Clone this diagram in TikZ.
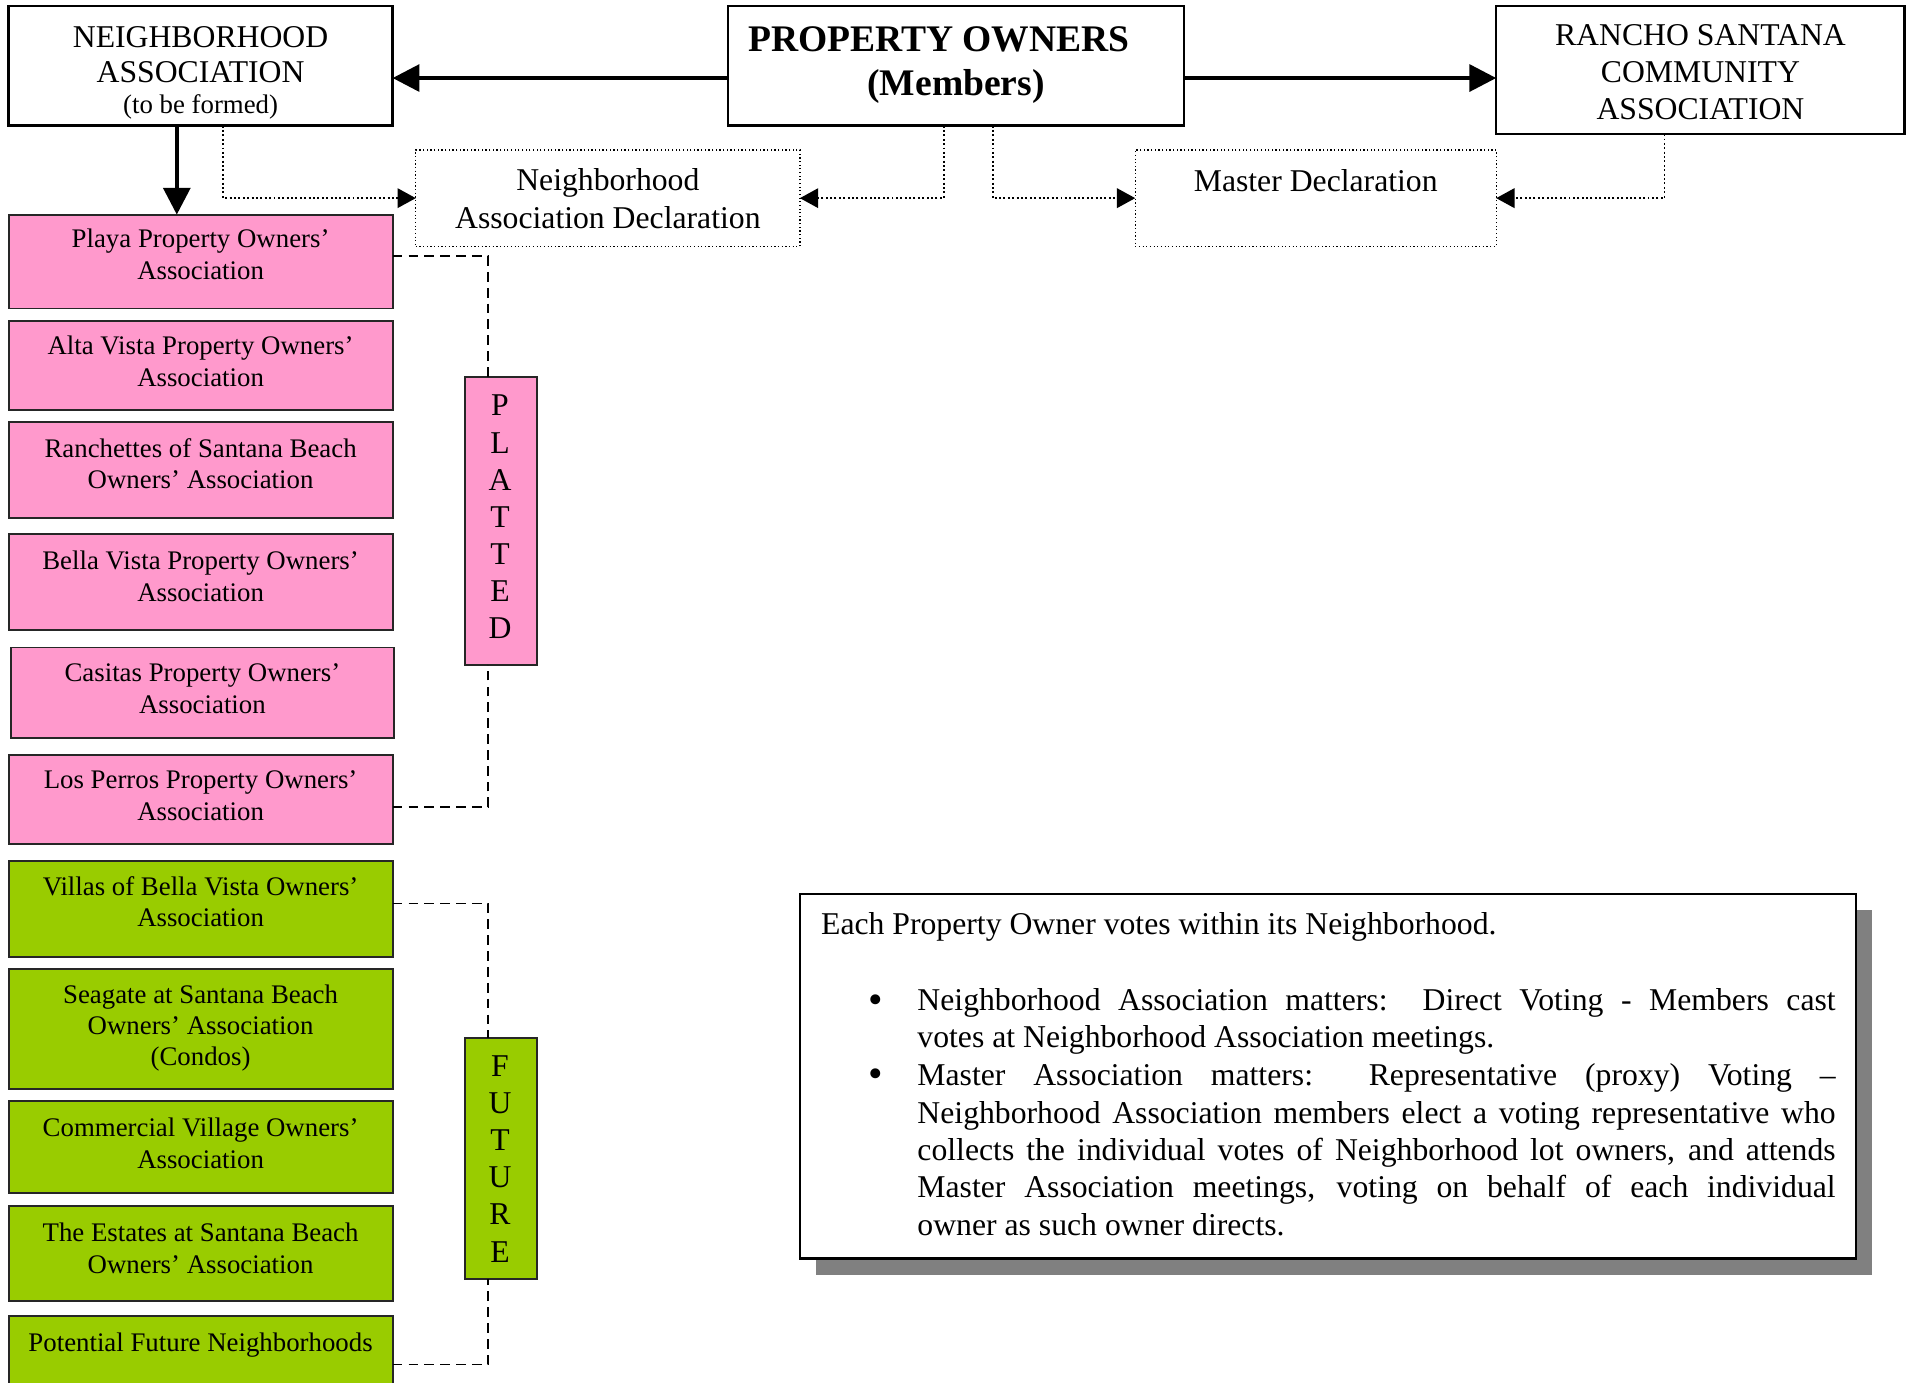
\documentclass[tikz,border=0pt]{standalone}
\usepackage{fontspec}
\setmainfont{Liberation Serif}
\usetikzlibrary{arrows.meta,calc}
\definecolor{pinkfill}{HTML}{FF99CC}
\definecolor{greenfill}{HTML}{99CC00}
\definecolor{shadowgray}{HTML}{808080}
\newcommand\placebox[6]{\node[#6,minimum width={(#4-#2)*0.5pt},minimum height={(#5-#3)*0.5pt}] (#1) at ({(#2+#4)/2},{(#3+#5)/2}) {};}
\begin{document}
\begin{tikzpicture}[x=0.5pt,y=-0.5pt,
  solidbox/.style={draw=black,line width=1pt,fill=white,inner sep=0pt,outer sep=0pt},
  dotbox/.style={draw=black,densely dotted,line width=0.5pt,fill=white,inner sep=0pt,outer sep=0pt},
  pinkbox/.style={draw=black!85,line width=0.8pt,fill=pinkfill,inner sep=0pt,outer sep=0pt},
  greenbox/.style={draw=black!85,line width=0.8pt,fill=greenfill,inner sep=0pt,outer sep=0pt},
  boxtext/.style={align=center,inner sep=0pt,anchor=base,font=\fontsize{11}{13}\selectfont},
  toptext/.style={align=center,inner sep=0pt,anchor=base,font=\fontsize{13}{15}\selectfont},
  lettertext/.style={align=center,inner sep=0pt,anchor=base,font=\fontsize{13}{15.25}\selectfont},
  notetext/.style={inner sep=0pt,anchor=base west,font=\fontsize{13}{15.4}\selectfont},
  bullettext/.style={inner sep=0pt,anchor=base,font=\fontsize{17}{17}\selectfont},
  bigarrow/.style={line width=1.6pt,-{Triangle[length=11pt,width=11pt]}},
  dotarrow/.style={densely dotted,line width=0.8pt,-{Triangle[length=7.5pt,width=8pt]}},
  dashlink/.style={dash pattern=on 4pt off 2.5pt,line width=0.7pt},
]
\useasboundingbox (0,0) rectangle (1568,1134);
\clip (0,0) rectangle (1568,1134);

% ---------- top boxes ----------
\placebox{na}{7}{5}{322}{103}{solidbox}
\placebox{po}{597}{5}{971}{103}{solidbox}
\placebox{rs}{1227}{5}{1562}{110}{solidbox}
\placebox{nad}{341}{123}{656}{202}{dotbox}
\placebox{md}{931}{123}{1227}{202}{dotbox}

% (base anchor of a multi-line node = baseline of its last line)
\node[toptext,font=\fontsize{13}{14.5}\selectfont] (naT) at (164.5,67.6) {NEIGHBORHOOD\\ASSOCIATION};
\node[boxtext] (naS) at (164.5,93) {(to be formed)};
\node[toptext,font=\fontsize{15.4}{18}\selectfont\bfseries] (poT) at (784,78.4) {PROPERTY OWNERS\hspace*{14pt}\\(Members)};
\node[toptext] (rsT) at (1394.5,97.6) {RANCHO SANTANA\\COMMUNITY\\ASSOCIATION};
\node[toptext,font=\fontsize{13}{15.5}\selectfont] (nadT) at (498.5,187) {Neighborhood\\Association Declaration};
\node[toptext] (mdT) at (1079,157) {Master Declaration};

% ---------- neighborhood boxes ----------
\placebox{playa}{7}{176}{322}{253}{pinkbox}
\placebox{alta}{7}{263}{322}{336}{pinkbox}
\placebox{ranch}{7}{346}{322}{425}{pinkbox}
\placebox{bella}{7}{438}{322}{517}{pinkbox}
\placebox{casitas}{9}{531}{323}{605}{pinkbox}
\placebox{perros}{7}{619}{322}{692}{pinkbox}
\placebox{villas}{7}{706}{322}{785}{greenbox}
\placebox{seagate}{7}{795}{322}{893}{greenbox}
\placebox{comm}{7}{903}{322}{978}{greenbox}
\placebox{estates}{7}{989}{322}{1067}{greenbox}
\placebox{potential}{7}{1079}{322}{1145}{greenbox}

\node[boxtext] (playaT) at (164.5,229) {Playa Property Owners'\\Association};
\node[boxtext] (altaT) at (164.5,317) {Alta Vista Property Owners'\\Association};
\node[boxtext] (ranchT) at (164.5,401) {Ranchettes of Santana Beach\\Owners' Association};
\node[boxtext] (bellaT) at (164.5,493) {Bella Vista Property Owners'\\Association};
\node[boxtext] (casitasT) at (166,585) {Casitas Property Owners'\\Association};
\node[boxtext] (perrosT) at (164.5,673) {Los Perros Property Owners'\\Association};
\node[boxtext] (villasT) at (164.5,760) {Villas of Bella Vista Owners'\\Association};
\node[boxtext,font=\fontsize{11}{12.75}\selectfont] (seagateT) at (164.5,874) {Seagate at Santana Beach\\Owners' Association\\(Condos)};
\node[boxtext] (commT) at (164.5,958) {Commercial Village Owners'\\Association};
\node[boxtext] (estatesT) at (164.5,1044) {The Estates at Santana Beach\\Owners' Association};
\node[boxtext] (potentialT) at (164.5,1108) {Potential Future Neighborhoods};

% ---------- group labels ----------
\placebox{platted}{381}{309}{440}{545}{pinkbox}
\placebox{future}{381}{851}{440}{1049}{greenbox}
\node[lettertext] (plattedT) at (410,524) {P\\L\\A\\T\\T\\E\\D};
\node[lettertext] (futureT) at (410,1035) {F\\U\\T\\U\\R\\E};

% ---------- helper coordinates ----------
\coordinate (y64) at (0,64);
\coordinate (x145) at (145,0);
\coordinate (x183) at (183,0);
\coordinate (x774) at (774,0);
\coordinate (x814) at (814,0);
\coordinate (x1365) at (1365,0);
\coordinate (x400) at (400,0);
\coordinate (y210) at (0,210);
\coordinate (y662) at (0,662);
\coordinate (y741) at (0,741);
\coordinate (y1119) at (0,1119);

% ---------- connectors ----------
\draw[bigarrow] (po.west|-y64) -- (na.east|-y64);
\draw[bigarrow] (po.east|-y64) -- (rs.west|-y64);
\draw[bigarrow] (na.south-|x145) -- (playa.north-|x145);
\draw[dotarrow] (na.south-|x183) |- (nad.west);
\draw[dotarrow] (po.south-|x774) |- (nad.east);
\draw[dotarrow] (po.south-|x814) |- (md.west);
\draw[dotarrow] (rs.south-|x1365) |- (md.east);

\draw[dashlink] (playa.east|-y210) -| (platted.north-|x400);
\draw[dashlink] (perros.east|-y662) -| (platted.south-|x400);
\draw[dashlink] (villas.east|-y741) -| (future.north-|x400);
\draw[dashlink] (potential.east|-y1119) -| (future.south-|x400);

% ---------- note box ----------
\fill[shadowgray] (669,746) rectangle (1535,1046);
\placebox{note}{656}{733}{1522}{1032}{solidbox}
\node[notetext] (n0) at (673,766) {Each Property Owner votes within its Neighborhood.};
\node[bullettext] (b1) at (718,831) {•};
\node[bullettext] (b2) at (718,892) {•};
\node[notetext] (n1) at (752,829) {\makebox[376.5pt][s]{Neighborhood Association matters:\ \ Direct Voting - Members cast}};
\node[notetext] (n2) at (752,859) {votes at Neighborhood Association meetings.};
\node[notetext] (n3) at (752,890) {\makebox[376.5pt][s]{Master Association matters:\ \ Representative (proxy) Voting –}};
\node[notetext] (n4) at (752,921) {\makebox[376.5pt][s]{Neighborhood Association members elect a voting representative who}};
\node[notetext] (n5) at (752,952) {\makebox[376.5pt][s]{collects the individual votes of Neighborhood lot owners, and attends}};
\node[notetext] (n6) at (752,982) {\makebox[376.5pt][s]{Master Association meetings, voting on behalf of each individual}};
\node[notetext] (n7) at (752,1013) {owner as such owner directs.};
\end{tikzpicture}
\end{document}
